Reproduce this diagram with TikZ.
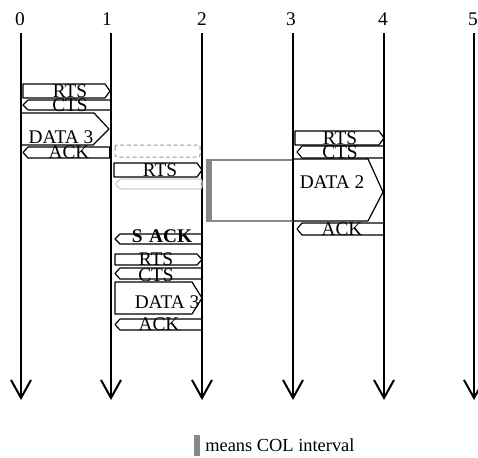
\documentclass[tikz,border=0pt]{standalone}
\usepackage{fontspec}
\setmainfont{Liberation Serif}
\usetikzlibrary{arrows.meta}
\definecolor{colgray}{HTML}{888888}
\definecolor{ghost}{HTML}{D0D0D0}
\definecolor{dashgray}{HTML}{999999}
\newcommand\rfr[5]{\draw[#5] (#1,#3) -- ({#2-5},#3) -- (#2,{(#3+#4)/2}) -- ({#2-5},#4) -- (#1,#4) -- cycle;}
\newcommand\lfr[5]{\draw[#5] (#2,#3) -- ({#1+5},#3) -- (#1,{(#3+#4)/2}) -- ({#1+5},#4) -- (#2,#4) -- cycle;}
\begin{document}
\begin{tikzpicture}[x=0.75pt,y=-0.75pt,
  frame/.style={draw=black,line width=0.9pt,line join=round},
  thickedge/.style={line width=2.2pt},
  lbl/.style={inner sep=0pt,anchor=base,font=\fontsize{14.5}{15}\selectfont},
  axis/.style={line width=1.5pt,-{Straight Barb[length=13.5pt,width=15pt,line width=1.5pt]}}]
\useasboundingbox (0,0) rectangle (478,457);

% time axes
\foreach \i/\x in {0/21,1/111,2/202,3/293,4/384,5/474}{
  \coordinate (t\i) at (\x,33);
  \coordinate (b\i) at (\x,400);
  \draw[axis] (t\i) -- (b\i);
}
% station labels
\node[lbl] (n0) at (20,25) {0};
\node[lbl] (n1) at (107,25) {1};
\node[lbl] (n2) at (202,25) {2};
\node[lbl] (n3) at (291,25) {3};
\node[lbl] (n4) at (383,25) {4};
\node[lbl] (n5) at (473,25) {5};

% ---- exchange 0 -> 1
\rfr{23}{110}{84}{98}{frame}
\lfr{23}{111}{100}{110}{frame}
\draw[frame] (21,113) -- (94,113) -- (109,129) -- (93,145) -- (21,145);
\lfr{23}{110}{147}{158}{frame}
\draw[thickedge] (110,147) -- (110,158);
\node[lbl] (rts0) at (70,97) {RTS};
\node[lbl] (cts0) at (70,111) {CTS};
\node[lbl] (data0) at (61,143) {DATA 3};
\node[lbl] (ack0) at (69,158) {ACK};

% ---- 1 -> 2 (first attempt)
\draw[dashgray,line width=0.75pt,dash pattern=on 3pt off 2pt,rounded corners=1.5pt] (115,145) rectangle (200,157);
\rfr{114}{202}{163}{177}{frame}
\lfr{115}{202}{179}{189}{draw=ghost,line width=1pt,rounded corners=2pt}
\node[lbl] (rts1) at (160,176) {RTS};

% ---- COL interval box
\draw[colgray,line width=1.5pt] (207,160) -- (293,160);
\draw[colgray,line width=1.5pt] (207,221) -- (293,221);
\fill[colgray] (206,159) rectangle (212,222);

% ---- exchange 3 -> 4
\rfr{295}{384}{131}{145}{frame}
\lfr{297}{384}{146}{158}{frame}
\draw[thickedge] (384,146) -- (384,158);
\draw[frame] (293,159) -- (368,159) -- (383,192) -- (368,221) -- (293,221);
\draw[thickedge] (293,159) -- (293,221);
\lfr{297}{384}{223}{235}{frame}
\draw[thickedge] (384,223) -- (384,235);
\node[lbl] (rts3) at (340,144) {RTS};
\node[lbl] (cts3) at (340,158) {CTS};
\node[lbl] (data3) at (332,188) {DATA 2};
\node[lbl] (ack3) at (342,235) {ACK};

% ---- 1 -> 2 (second attempt)
\lfr{115}{202}{234}{244}{frame}
\rfr{115}{202}{254}{265}{frame}
\lfr{115}{202}{268}{279}{frame}
\draw[frame] (115,282) -- (192,282) -- (202,298) -- (192,314) -- (115,314) -- cycle;
\lfr{115}{202}{319}{330}{frame}
\node[lbl,font=\fontsize{14.5}{15}\selectfont\bfseries] (sack) at (162,242) {S\hspace{5pt}ACK};
\node[lbl] (rts2) at (156,265) {RTS};
\node[lbl] (cts2) at (156,281) {CTS};
\node[lbl] (data2) at (167,308) {DATA 3};
\node[lbl] (ack2) at (159,330) {ACK};

% ---- legend
\fill[colgray] (194,435) rectangle (200,456);
\node[lbl,anchor=base west,font=\fontsize{13.8}{15}\selectfont] (legend) at (205,451) {means COL interval};
\end{tikzpicture}
\end{document}
